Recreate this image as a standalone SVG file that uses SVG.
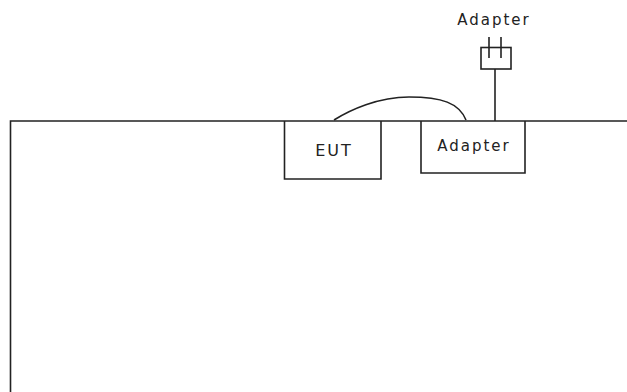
<svg xmlns="http://www.w3.org/2000/svg" width="627" height="392" viewBox="0 0 627 392">
<style>
.l{fill:none;stroke:#222;stroke-width:1.6}
.t{font-family:"DejaVu Sans",sans-serif;font-size:15px;fill:#222;text-anchor:middle;letter-spacing:2px}
.e{font-size:16px}
</style>
<rect width="627" height="392" fill="#fff"/>
<g id="connectors">
<path class="l" d="M10.5 392V121H627"/>
<path class="l" d="M334 120C350 110 378 97 409 97C442 97 459 103 466 120"/>
<path class="l" d="M495 69V121"/>
</g>
<g id="eut"><path class="l" d="M284.500 121V179H381V121"/><text class="t e" x="334" y="156">EUT</text></g>
<g id="adapter"><path class="l" d="M421 121V173H525V121"/><text class="t" x="474" y="151">Adapter</text></g>
<g id="plug"><rect class="l" x="481" y="47.500" width="30" height="21.500"/><path class="l" d="M489 37V58M501 37V58"/><text class="t" x="494" y="25">Adapter</text></g>
</svg>
